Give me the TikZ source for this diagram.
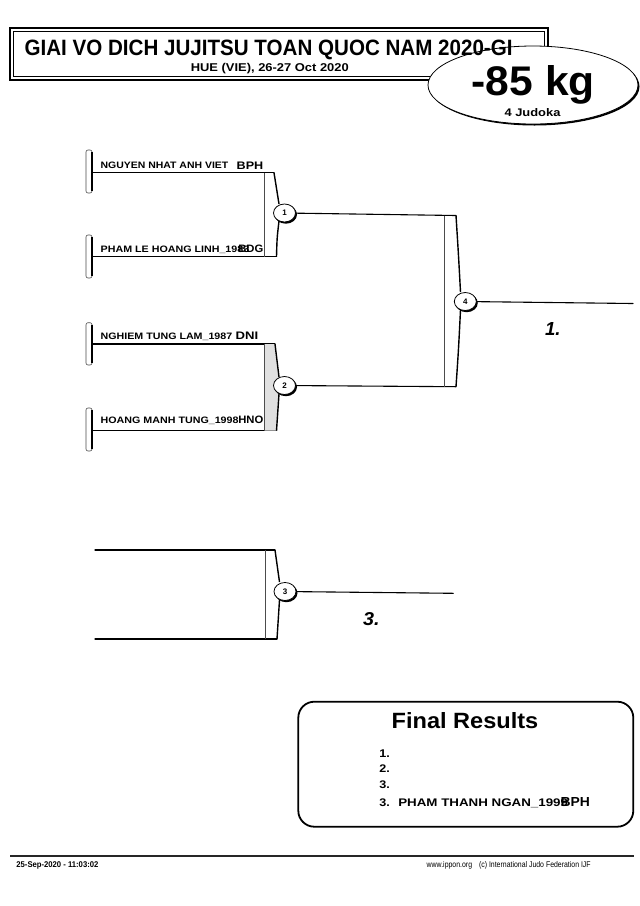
\documentclass[tikz,border=0pt]{standalone}
\usepackage{fontspec}
\setmainfont{Liberation Sans}
\usepackage{graphicx}
\usetikzlibrary{shapes.geometric}
\newcommand\fitt[3]{\resizebox{#1pt}{#2pt}{\bfseries #3}}
\newcommand\fitr[3]{\resizebox{#1pt}{#2pt}{#3}}
\begin{document}
\begin{tikzpicture}[x=1pt,y=-1pt,
  txt/.style={inner sep=0pt, outer sep=0pt, anchor=base west},
  hline/.style={line width=1.1pt, line cap=round},
  thinl/.style={line width=0.5pt, draw=black!70},
  edgel/.style={line width=1.4pt},
  barbox/.style={line width=0.6pt, draw=black!70, fill=white, rounded corners=2pt},
  mcirc/.style={ellipse, draw, fill=white, line width=0.8pt, minimum width=22pt, minimum height=18pt, inner sep=0pt},
  shad/.style={fill=black}
]
\useasboundingbox[fill=white] (0,0) rectangle (640,906);

% ---------- header ----------
\draw[line width=2pt] (10,28) rectangle (548,80);
\draw[line width=0.6pt] (13.5,31.5) rectangle (544.5,76.5);
\fill[black] (534.5,86.5) ellipse [x radius=105, y radius=39];
\node[ellipse, draw, fill=white, line width=0.8pt, minimum width=210pt, minimum height=78pt, inner sep=0pt] (wt) at (533,85) {};
\node[txt] (title) at (24.6,55.3) {\fitt{488}{15.5}{GIAI VO DICH JUJITSU TOAN QUOC NAM 2020-GI}};
\node[txt] (place) at (190.8,71.3) {\fitt{158}{8.2}{HUE (VIE), 26-27 Oct 2020}};
\node[txt] (cat) at (471.8,95) {\fitt{123}{30}{-85 kg}};
\node[txt] (nb) at (504.5,116) {\fitt{56}{8}{4 Judoka}};

% ---------- competitor bars ----------
\foreach \t/\b [count=\i] in {150/193, 235/278, 322.7/365, 408/451}{
  \draw[barbox] (86,\t) rectangle (92,\b);
  \draw[line width=1.1pt] (92,\t+2) -- (92,\b-2);
}

% ---------- competitor lines ----------
\draw[hline] (92,172.7) -- (274,172.7);
\draw[hline] (92,256.7) -- (276.5,256.7);
\draw[hline] (92,344) -- (275,344);
\draw[hline] (92,430.7) -- (276.5,430.7);

% names
\node[txt] (n1) at (100.7,168.5) {\fitt{127.6}{6.5}{NGUYEN NHAT ANH VIET}};
\node[txt] (c1) at (236.7,169) {\fitt{26.6}{7.5}{BPH}};
\node[txt] (n2) at (100.7,252.7) {\fitt{148.6}{6.5}{PHAM LE HOANG LINH\_1983}};
\node[txt] (c2) at (238.3,252.7) {\fitt{25}{7.5}{BDG}};
\node[txt] (n3) at (100.7,339.3) {\fitt{131.6}{6.5}{NGHIEM TUNG LAM\_1987}};
\node[txt] (c3) at (235.7,339.3) {\fitt{22.6}{7.5}{DNI}};
\node[txt] (n4) at (100.7,423.3) {\fitt{137.9}{6.5}{HOANG MANH TUNG\_1998}};
\node[txt] (c4) at (238.3,423.3) {\fitt{25}{7.5}{HNO}};

% ---------- match 1 ----------
\draw[thinl] (264.3,172.7) -- (264.3,256.7);
\draw[edgel] (274,172.7) .. controls (276,188) .. (279,204);
\draw[edgel] (279,221) .. controls (277,238) .. (276.5,256.7);
\coordinate (p1) at (284.5,213);
\draw[hline] (p1) -- (456,215.5);

% ---------- match 2 ----------
\fill[black!12] (264.3,344) -- (275,344) .. controls (277,360) .. (279,377) -- (279,394) .. controls (277,412) .. (276.5,430.7) -- (264.3,430.7) -- cycle;
\draw[thinl] (264.3,344) -- (264.3,430.7);
\draw[edgel] (275,344) .. controls (277,360) .. (279,377);
\draw[edgel] (279,394) .. controls (277,412) .. (276.5,430.7);
\coordinate (p2) at (284.5,385.5);
\draw[hline] (p2) -- (456,386.7);

% ---------- match 4 ----------
\draw[thinl] (444.3,215.5) -- (444.3,386.7);
\draw[edgel] (456,215.5) .. controls (458.5,255) .. (460.5,292);
\draw[edgel] (460.5,310) .. controls (458.5,350) .. (456,386.7);
\coordinate (p4) at (465.3,301.5);
\draw[hline] (p4) -- (633,303.5);
\node[txt] (first) at (545,335) {\resizebox{15.5pt}{13pt}{\bfseries\itshape 1.}};

% ---------- match 3 ----------
\draw[hline] (95,550) -- (275,550);
\draw[hline] (95,639) -- (277,639);
\draw[thinl] (265,550) -- (265,639);
\draw[edgel] (275,550) .. controls (277,566) .. (279.5,582);
\draw[edgel] (279.5,600) .. controls (278,620) .. (277,639);
\coordinate (p3) at (285,591.5);
\draw[hline] (p3) -- (453.3,593.3);
\node[txt] (third) at (363,625) {\resizebox{16.5pt}{13pt}{\bfseries\itshape 3.}};

% ---------- match circles ----------
\foreach \p/\n in {p1/1, p2/2, p3/3, p4/4}{
  \fill[shad] ([shift={(1.3,1.5)}]\p) ellipse [x radius=11.2, y radius=9.2];
  \node[mcirc] (m\n) at (\p) {\fontsize{8}{8}\selectfont\bfseries \n};
}

% ---------- final results ----------
\draw[line width=1.8pt, rounded corners=16pt] (298.3,701.7) rectangle (633.3,826.7);
\node[txt] (fr) at (391.7,728.3) {\fitt{146.6}{16}{Final Results}};
\node[txt] (r1) at (379.3,757.7) {\fitt{10.5}{7.7}{1.}};
\node[txt] (r2) at (379.3,772.7) {\fitt{10.5}{7.7}{2.}};
\node[txt] (r3) at (379.3,788.3) {\fitt{10.5}{7.7}{3.}};
\node[txt] (r4) at (379.3,806.7) {\fitt{10.5}{7.7}{3.}};
\node[txt] (rn) at (398.3,806.7) {\fitt{169.8}{7.7}{PHAM THANH NGAN\_1999}};
\node[txt] (rc) at (560.7,806.7) {\fitt{29.3}{9}{BPH}};

% ---------- footer ----------
\draw[line width=2.6pt, draw=black!85] (10,856) -- (634,856);
\node[txt] (date) at (16.4,867) {\fitt{82}{5.8}{25-Sep-2020 - 11:03:02}};
\node[txt] (ijf) at (426.7,867) {\fitr{164}{6}{www.ippon.org\quad (c) International Judo Federation IJF}};
\end{tikzpicture}
\end{document}
